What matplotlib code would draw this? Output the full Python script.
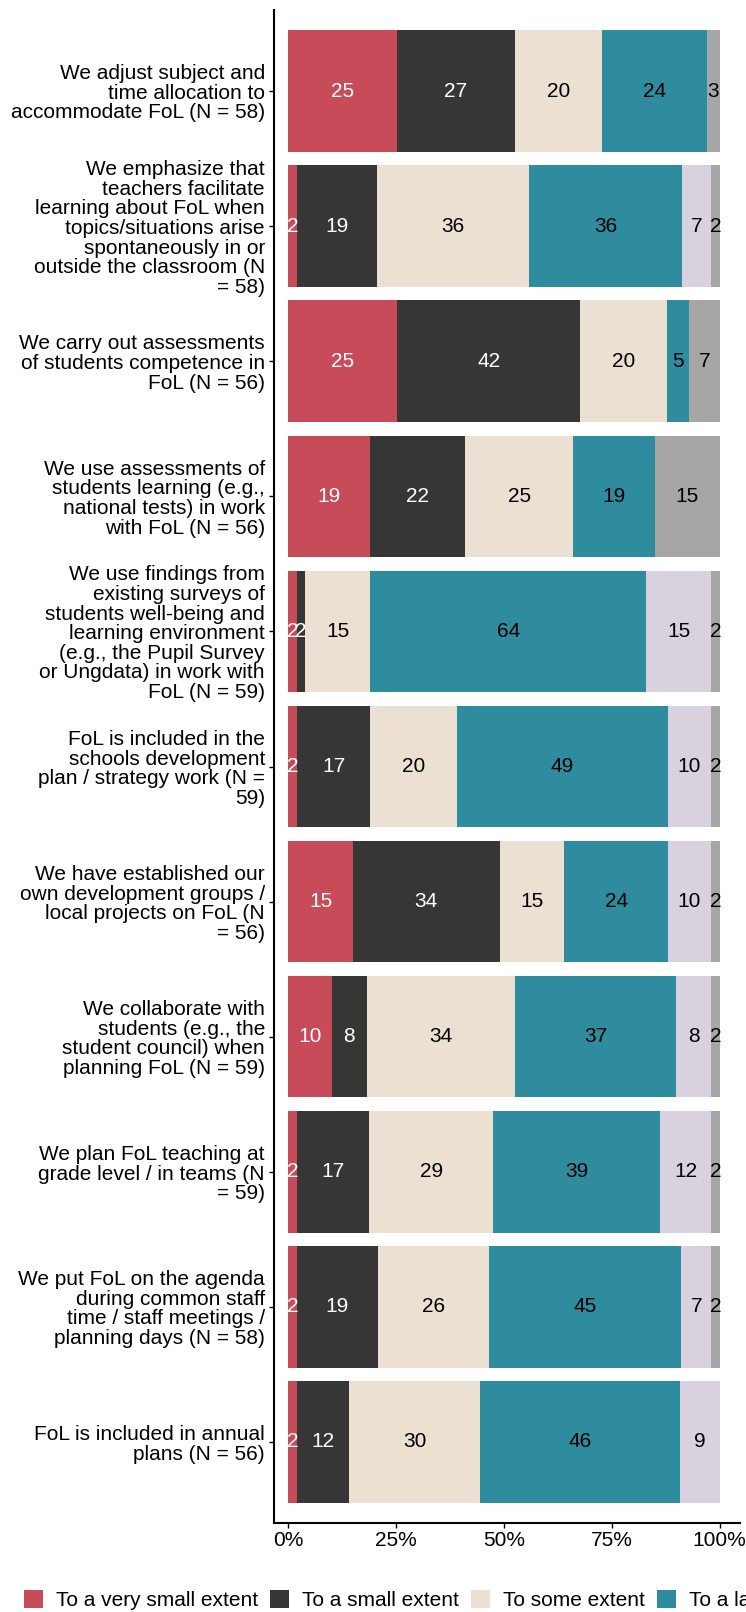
import numpy as np
import matplotlib
matplotlib.use("Agg")
import matplotlib.pyplot as plt
from matplotlib.patches import Patch

plt.rcParams['font.family'] = ['Liberation Sans', 'DejaVu Sans']

# category labels (already wrapped as in the original)
items = [
    "We adjust subject and\ntime allocation to\naccommodate FoL (N = 58)",
    "We emphasize that\nteachers facilitate\nlearning about FoL when\ntopics/situations arise\nspontaneously in or\noutside the classroom (N\n= 58)",
    "We carry out assessments\nof students competence in\nFoL (N = 56)",
    "We use assessments of\nstudents learning (e.g.,\nnational tests) in work\nwith FoL (N = 56)",
    "We use findings from\nexisting surveys of\nstudents well-being and\nlearning environment\n(e.g., the Pupil Survey\nor Ungdata) in work with\nFoL (N = 59)",
    "FoL is included in the\nschools development\nplan / strategy work (N =\n59)",
    "We have established our\nown development groups /\nlocal projects on FoL (N\n= 56)",
    "We collaborate with\nstudents (e.g., the\nstudent council) when\nplanning FoL (N = 59)",
    "We plan FoL teaching at\ngrade level / in teams (N\n= 59)",
    "We put FoL on the agenda\nduring common staff\ntime / staff meetings /\nplanning days (N = 58)",
    "FoL is included in annual\nplans (N = 56)",
]

responses = ["To a very small extent", "To a small extent", "To some extent",
             "To a large extent", "To a very large extent", "Don't know"]

# percentages per response, one value per item (top to bottom)
very_small = [25, 2, 25, 19, 2, 2, 15, 10, 2, 2, 2]
small      = [27, 19, 42, 22, 2, 17, 34, 8, 17, 19, 12]
some       = [20, 36, 20, 25, 15, 20, 15, 34, 29, 26, 30]
large      = [24, 36, 5, 19, 64, 49, 24, 37, 39, 45, 46]
very_large = [0, 7, 0, 0, 15, 10, 10, 8, 12, 7, 9]
dont_know  = [3, 2, 7, 15, 2, 2, 2, 2, 2, 2, 0]

colors = ["#C84B5A", "#363636", "#EBE0D1", "#2E8C9E", "#D9D1DE", "#A6A6A6"]
text_colors = ["white", "white", "black", "black", "black", "black"]

series = np.array([very_small, small, some, large, very_large, dont_know], dtype=float)
widths = series / series.sum(axis=0) * 100   # bars fill to 100%

fig = plt.figure(figsize=(7.46, 16.12), dpi=100)
ax = fig.add_axes([274/746, 1 - 1523/1612, 466/746, 1513/1612])

y = np.arange(len(items))
left = np.zeros(len(items))
for k in range(len(responses)):
    ax.barh(y, widths[k], left=left, height=0.9, color=colors[k], label=responses[k])
    for i in range(len(items)):
        if series[k, i] > 0:
            ax.text(left[i] + widths[k, i] / 2, y[i], "%d" % series[k, i],
                    ha='center', va='center', fontsize=15, color=text_colors[k])
    left += widths[k]

ax.set_ylim(10.6, -0.6)
ax.set_xlim(-3.3, 104.7)
ax.set_xticks([0, 25, 50, 75, 100])
ax.set_xticklabels(["0%", "25%", "50%", "75%", "100%"])
ax.set_yticks(y)
ax.set_yticklabels(items)
for t in ax.get_yticklabels():
    t.set_linespacing(1.04)

ax.tick_params(axis='y', labelsize=15, length=3.5, width=1, pad=3)
ax.tick_params(axis='x', labelsize=15, length=3.5, width=1, pad=2)
for s in ['top', 'right']:
    ax.spines[s].set_visible(False)
for s in ['left', 'bottom']:
    ax.spines[s].set_linewidth(1.5)

handles = [Patch(facecolor=c) for c in colors]
fig.legend(handles, responses, loc='center left', bbox_to_anchor=(24/746, 1 - 1600/1612),
           ncol=6, frameon=False, fontsize=15, borderpad=0, borderaxespad=0,
           handlelength=0.91, handleheight=0.95, handletextpad=0.62, columnspacing=0.58)

fig.savefig("out.png", dpi=100)
